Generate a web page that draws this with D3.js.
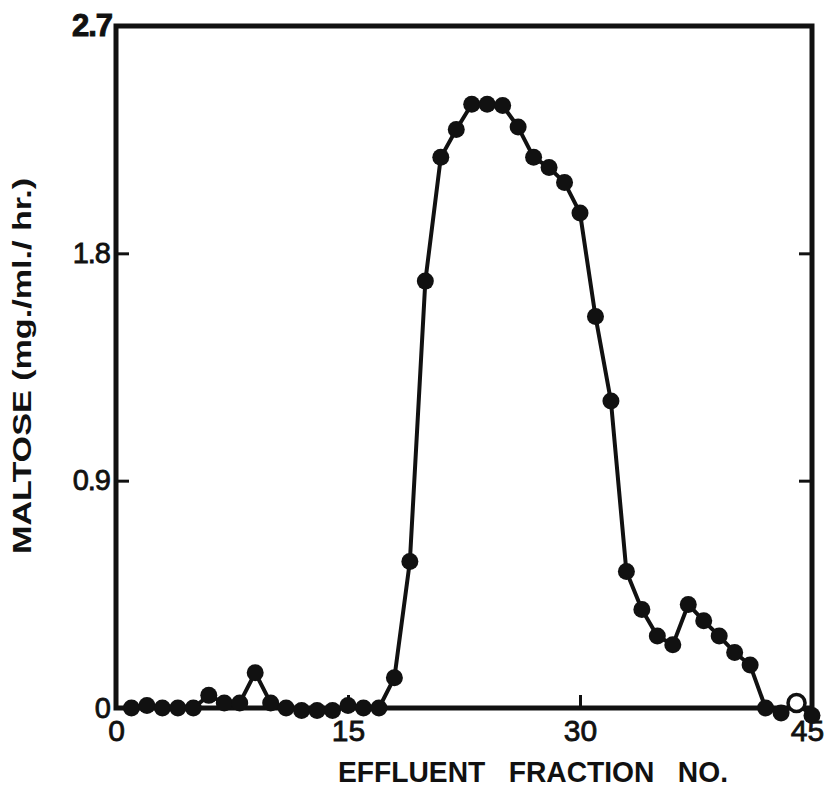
<!DOCTYPE html>
<html>
<head>
<meta charset="utf-8">
<script src="https://cdn.jsdelivr.net/npm/d3@7/dist/d3.min.js"></script>
<style>
  html, body { margin: 0; padding: 0; background: #fff; }
  svg { display: block; }
  text { font-family: "Liberation Sans", Arial, sans-serif; fill: #111; }
</style>
</head>
<body>
<svg id="chart" width="826" height="807"></svg>
<script>
// ---- data ----
const fractions = [1,2,3,4,5,6,7,8,9,10,11,12,13,14,15,16,17,18,19,20,21,22,23,24,25,26,27,28,29,30,31,32,33,34,35,36,37,38,39,40,41,42,43,44,45];
const maltose = [0.00,0.01,0.00,0.00,0.00,0.05,0.02,0.02,0.14,0.02,0.00,-0.01,-0.01,-0.01,0.01,0.00,0.00,0.12,0.58,1.69,2.18,2.29,2.39,2.39,2.385,2.30,2.18,2.14,2.08,1.96,1.55,1.215,0.54,0.39,0.285,0.25,0.41,0.345,0.285,0.22,0.17,0.00,-0.02,0.02,-0.03];
const openPoints = [44];           // fractions drawn with an open circle
const xTicks = [0, 15, 30, 45];
const yTicks = [0, 0.9, 1.8, 2.7];
const yTickLabels = ["0", "0.9", "1.8", "2.7"];
const xTitle = "EFFLUENT   FRACTION   NO.";
const yTitle = "MALTOSE (mg./ml./ hr.)";

// ---- layout ----
const svg = d3.select("#chart");
const L = 116, R = 812, T = 26, B = 708;
const x = d3.scaleLinear().domain([0, 45]).range([L, R]);
const y = d3.scaleLinear().domain([0, 2.7]).range([B, T]);

const ink = "#111";

// frame
svg.append("rect")
  .attr("x", L).attr("y", T).attr("width", R - L).attr("height", B - T)
  .attr("fill", "none").attr("stroke", ink).attr("stroke-width", 5);

// bottom axis ticks (inward) and labels
const xAxis = d3.axisBottom(x).tickValues(xTicks).tickSizeInner(-13).tickSizeOuter(0).tickPadding(0).tickFormat(d3.format("d"));
const gx = svg.append("g").attr("transform", `translate(0,${B})`).call(xAxis);
gx.select(".domain").remove();
gx.selectAll(".tick line").attr("stroke", ink).attr("stroke-width", 3)
  .filter(d => d === 0 || d === 45).remove();
gx.selectAll(".tick text").attr("y", 12).attr("font-size", 30).attr("font-weight", 500)
  .attr("stroke", ink).attr("stroke-width", 0.8).attr("fill", ink);
gx.selectAll(".tick text").filter(d => d === 45).attr("x", -5);

// left axis
const yAxis = d3.axisLeft(y).tickValues(yTicks).tickSizeInner(-13).tickSizeOuter(0).tickPadding(0)
  .tickFormat((d, i) => yTickLabels[i]);
const gy = svg.append("g").attr("transform", `translate(${L},0)`).call(yAxis);
gy.select(".domain").remove();
gy.selectAll(".tick line").attr("stroke", ink).attr("stroke-width", 3)
  .filter(d => d === 0 || d === 2.7).remove();
gy.selectAll(".tick text").attr("x", -6).attr("font-size", 29).attr("font-weight", 500)
  .attr("stroke", ink).attr("stroke-width", 0.8).attr("fill", ink)
  .attr("letter-spacing", -1);
gy.selectAll(".tick text").filter(d => d === 2.7)
  .attr("x", -4).attr("font-size", 31).attr("font-weight", 700).attr("stroke-width", 1.0).attr("dy", "0.3em");

// right axis
const yAxisR = d3.axisRight(y).tickValues([0.9, 1.8]).tickSizeInner(-13).tickSizeOuter(0).tickFormat("");
const gyr = svg.append("g").attr("transform", `translate(${R},0)`).call(yAxisR);
gyr.select(".domain").remove();
gyr.selectAll(".tick line").attr("stroke", ink).attr("stroke-width", 3);

// line
const line = d3.line().x((d, i) => x(fractions[i])).y(d => y(d));
svg.append("path").datum(maltose)
  .attr("d", line).attr("fill", "none").attr("stroke", ink).attr("stroke-width", 4)
  .attr("stroke-linejoin", "round");

// points
const pts = fractions.map((f, i) => ({ f, v: maltose[i] }));
svg.append("g").selectAll("circle").data(pts).join("circle")
  .attr("cx", d => x(d.f)).attr("cy", d => y(d.v)).attr("r", 8.5)
  .attr("fill", d => openPoints.includes(d.f) ? "#fff" : ink)
  .attr("stroke", ink).attr("stroke-width", d => openPoints.includes(d.f) ? 3.5 : 0);

// titles
svg.append("text")
  .attr("x", 533).attr("y", 782).attr("text-anchor", "middle")
  .attr("font-size", 29).attr("font-weight", 700)
  .style("white-space", "pre")
  .attr("textLength", 390).attr("lengthAdjust", "spacingAndGlyphs")
  .text(xTitle);

svg.append("text")
  .attr("transform", "translate(31,366) rotate(-90)")
  .attr("text-anchor", "middle")
  .attr("font-size", 26).attr("font-weight", 700)
  .attr("textLength", 376).attr("lengthAdjust", "spacingAndGlyphs")
  .text(yTitle);
</script>
</body>
</html>
